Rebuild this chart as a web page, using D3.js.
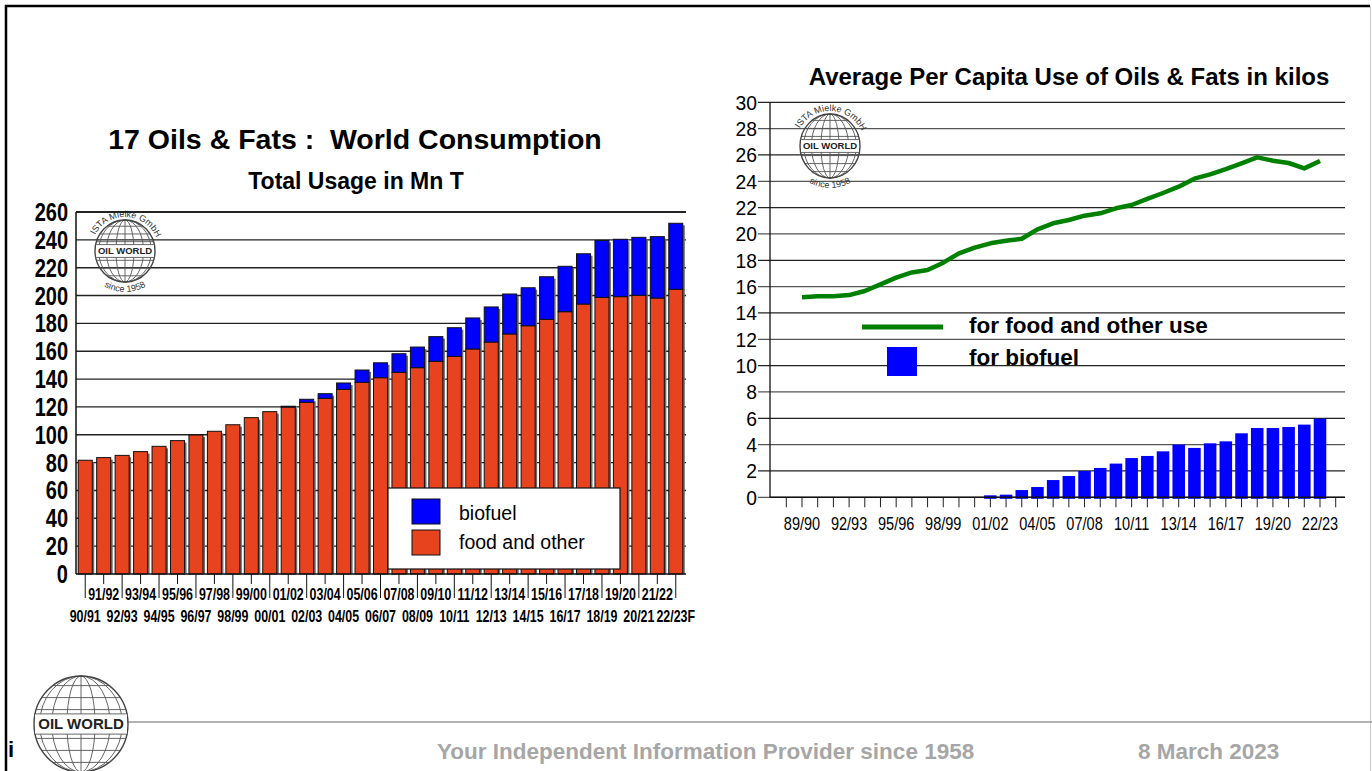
<!DOCTYPE html>
<html><head><meta charset="utf-8">
<script src="https://cdn.jsdelivr.net/npm/d3@7"></script>
<style>
html,body{margin:0;padding:0;background:#fff;}
svg{display:block;}
text{font-family:'Liberation Sans',Arial,sans-serif;}
</style></head><body>
<svg id="c" width="1372" height="771"></svg>
<script>
// ---------- DATA ----------
const leftCategories = ["90/91","91/92","92/93","93/94","94/95","95/96","96/97","97/98","98/99","99/00",
  "00/01","01/02","02/03","03/04","04/05","05/06","06/07","07/08","08/09","09/10","10/11","11/12",
  "12/13","13/14","14/15","15/16","16/17","17/18","18/19","19/20","20/21","21/22","22/23F"];
const leftFood = [81.7,83.6,85.2,87.9,91.7,95.8,99.8,102.5,107.2,112.3,116.6,119.9,123.3,126.2,132.6,
  137.7,141.0,144.8,148.2,152.8,156.3,161.6,166.6,172.4,178.3,182.9,188.4,193.9,198.7,199.2,200.2,198.2,204.5];
const leftBiofuel = [0,0,0,0,0,0,0,0,0,0,0,0.6,2.2,3.3,4.6,8.8,10.7,13.4,14.8,17.7,20.6,22.3,25.2,28.7,
  27.3,30.6,32.6,36.1,40.9,41.2,41.6,44.1,47.4];
const leftYTicks = [0,20,40,60,80,100,120,140,160,180,200,220,240,260];

const rightCategories = ["89/90","90/91","91/92","92/93","93/94","94/95","95/96","96/97","97/98","98/99",
  "99/00","00/01","01/02","02/03","03/04","04/05","05/06","06/07","07/08","08/09","09/10","10/11","11/12",
  "12/13","13/14","14/15","15/16","16/17","17/18","18/19","19/20","20/21","21/22","22/23"];
const rightFood = [15.19,15.27,15.27,15.36,15.67,16.17,16.68,17.08,17.26,17.82,18.53,18.96,19.29,19.49,
  19.64,20.35,20.81,21.06,21.39,21.57,21.95,22.2,22.66,23.11,23.59,24.2,24.53,24.93,25.36,25.82,25.56,25.39,24.98,25.54];
const rightBiofuel = [0,0,0,0,0,0,0,0,0,0,0,0,0.15,0.2,0.55,0.78,1.31,1.62,2.0,2.23,2.56,2.98,3.14,3.49,
  4.0,3.75,4.1,4.25,4.86,5.26,5.26,5.34,5.52,5.97];
const rightYTicks = [0,2,4,6,8,10,12,14,16,18,20,22,24,26,28,30];
const rightXLabels = ["89/90","92/93","95/96","98/99","01/02","04/05","07/08","10/11","13/14","16/17","19/20","22/23"];

const RED = "#e6431e", BLUE = "#0000ff", GREEN = "#008000";

const svg = d3.select("#c");

function ntext(g, x, y, str, size, weight, anchor, sx) {
  return g.append("text").attr("transform",`translate(${x},${y}) scale(${sx},1)`)
    .attr("text-anchor",anchor).attr("font-size",size).attr("font-weight",weight).text(str);
}

// ---------- FRAME ----------
svg.append("line").attr("x1",5).attr("x2",1370).attr("y1",6).attr("y2",6).attr("stroke","#000").attr("stroke-width",2.5);
svg.append("line").attr("x1",6).attr("x2",6).attr("y1",5).attr("y2",771).attr("stroke","#000").attr("stroke-width",2.5);
svg.append("line").attr("x1",1370.5).attr("x2",1370.5).attr("y1",6).attr("y2",771).attr("stroke","#ccc").attr("stroke-width",1);

// ---------- GLOBE LOGO ----------
let arcId = 0;
function globe(cx, cy, rx, ry, fs, withArcText) {
  const g = svg.append("g");
  const st = "#555";
  [0.3, 0.62, 0.88].forEach(k => g.append("ellipse").attr("cx",cx).attr("cy",cy).attr("rx",rx*k).attr("ry",ry)
     .attr("fill","none").attr("stroke",st).attr("stroke-width",0.9));
  g.append("line").attr("x1",cx).attr("x2",cx).attr("y1",cy-ry).attr("y2",cy+ry).attr("stroke",st).attr("stroke-width",0.9);
  [-0.8,-0.55,-0.3,0.3,0.55,0.8].forEach(t => {
    const w = rx*Math.sqrt(1-t*t);
    g.append("line").attr("x1",cx-w).attr("x2",cx+w).attr("y1",cy+t*ry).attr("y2",cy+t*ry)
      .attr("stroke",st).attr("stroke-width",0.9);
  });
  g.append("ellipse").attr("cx",cx).attr("cy",cy).attr("rx",rx).attr("ry",ry)
    .attr("fill","none").attr("stroke","#444").attr("stroke-width",1.4);
  const bh = fs*1.35;
  g.append("rect").attr("x",cx-rx+1).attr("y",cy-bh/2).attr("width",2*rx-2).attr("height",bh).attr("fill","#fff");
  g.append("line").attr("x1",cx-rx).attr("x2",cx+rx).attr("y1",cy-bh/2).attr("y2",cy-bh/2).attr("stroke",st).attr("stroke-width",0.9);
  g.append("line").attr("x1",cx-rx).attr("x2",cx+rx).attr("y1",cy+bh/2).attr("y2",cy+bh/2).attr("stroke",st).attr("stroke-width",0.9);
  g.append("text").attr("x",cx).attr("y",cy+fs*0.36).attr("text-anchor","middle")
    .attr("font-size",fs).attr("font-weight","bold").attr("fill","#222").text("OIL WORLD");
  if (withArcText) {
    const R = Math.max(rx,ry)+3;
    const id1 = "arcT"+(arcId++), id2 = "arcB"+(arcId++);
    const a0 = -160*Math.PI/180, a1 = -15*Math.PI/180;
    g.append("path").attr("id",id1).attr("fill","none")
      .attr("d",`M${cx+R*Math.cos(a0)},${cy+R*Math.sin(a0)} A${R},${R} 0 0 1 ${cx+R*Math.cos(a1)},${cy+R*Math.sin(a1)}`);
    g.append("text").attr("font-size",fs*0.95).attr("fill","#333")
      .append("textPath").attr("href","#"+id1).attr("startOffset","50%").attr("text-anchor","middle").text("ISTA Mielke GmbH");
    const R2 = Math.max(rx,ry)+10;
    const b0 = 140*Math.PI/180, b1 = 40*Math.PI/180;
    g.append("path").attr("id",id2).attr("fill","none")
      .attr("d",`M${cx+R2*Math.cos(b0)},${cy+R2*Math.sin(b0)} A${R2},${R2} 0 0 0 ${cx+R2*Math.cos(b1)},${cy+R2*Math.sin(b1)}`);
    g.append("text").attr("font-size",fs*0.95).attr("fill","#333")
      .append("textPath").attr("href","#"+id2).attr("startOffset","50%").attr("text-anchor","middle").text("since 1958");
  }
}

// ---------- LEFT CHART ----------
const L = {left:76, right:685, top:212, bottom:574};
const xL = d3.scaleBand().domain(leftCategories).range([L.left, L.right]).paddingInner(0.24).paddingOuter(0.12);
const yL = d3.scaleLinear().domain([0,260]).range([L.bottom, L.top]);

svg.append("text").attr("x",355).attr("y",149).attr("text-anchor","middle").attr("font-size",28.5)
  .attr("font-weight","bold").style("white-space","pre").text("17 Oils & Fats :  World Consumption");
svg.append("text").attr("x",356).attr("y",189).attr("text-anchor","middle").attr("font-size",23)
  .attr("font-weight","bold").text("Total Usage in Mn T");

const gL = svg.append("g");
gL.selectAll("line.grid").data(leftYTicks.filter(d=>d>0)).join("line")
  .attr("x1",L.left).attr("x2",L.right+1).attr("y1",d=>yL(d)).attr("y2",d=>yL(d))
  .attr("stroke","#222").attr("stroke-width",1.4);
const ylab = svg.append("g");
leftYTicks.forEach(d => ntext(ylab, 68, yL(d)+9, d, 25, "bold", "end", 0.8));

globe(125, 251, 30, 31, 9.5, true);

const bw = xL.bandwidth();
const bars = svg.append("g");
leftCategories.forEach((c,i) => {
  const x = xL(c);
  const tot = leftFood[i] + leftBiofuel[i];
  bars.append("rect").attr("x",x+2).attr("y",yL(tot)+2).attr("width",bw).attr("height",yL(0)-yL(tot)-2)
    .attr("fill","#6b6b6b");
});
bars.selectAll("rect.food").data(leftCategories).join("rect").attr("class","food")
  .attr("x",d=>xL(d)).attr("width",bw)
  .attr("y",(d,i)=>yL(leftFood[i])).attr("height",(d,i)=>yL(0)-yL(leftFood[i]))
  .attr("fill",RED).attr("stroke","#111").attr("stroke-width",1);
bars.selectAll("rect.bio").data(leftCategories.filter((d,i)=>leftBiofuel[i]>0)).join("rect").attr("class","bio")
  .attr("x",d=>xL(d)).attr("width",bw)
  .attr("y",d=>{const i=leftCategories.indexOf(d);return yL(leftFood[i]+leftBiofuel[i]);})
  .attr("height",d=>{const i=leftCategories.indexOf(d);return yL(leftFood[i])-yL(leftFood[i]+leftBiofuel[i]);})
  .attr("fill",BLUE).attr("stroke","#111").attr("stroke-width",1);

svg.append("line").attr("x1",L.left).attr("x2",L.left).attr("y1",L.top).attr("y2",L.bottom).attr("stroke","#111").attr("stroke-width",1.5);
svg.append("line").attr("x1",L.left).attr("x2",L.right+1).attr("y1",L.top).attr("y2",L.top).attr("stroke","#111").attr("stroke-width",1.4);
svg.append("line").attr("x1",L.left).attr("x2",L.right+1).attr("y1",L.bottom).attr("y2",L.bottom).attr("stroke","#111").attr("stroke-width",1.5);
const xt = svg.append("g");
leftCategories.forEach((c,i) => {
  const cx = xL(c) + bw/2;
  xt.append("line").attr("x1",cx).attr("x2",cx).attr("y1",L.bottom).attr("y2", i%2===0 ? 598 : 584)
    .attr("stroke","#111").attr("stroke-width",1);
  ntext(xt, cx, i%2===0 ? 622 : 600, c, 17, "bold", "middle", 0.73);
});

const lg = svg.append("g");
lg.append("rect").attr("x",388).attr("y",488).attr("width",232).attr("height",81).attr("fill","#fff").attr("stroke","#111").attr("stroke-width",1.2);
lg.append("rect").attr("x",412).attr("y",499).attr("width",28).attr("height",25).attr("fill",BLUE).attr("stroke","#111");
lg.append("rect").attr("x",412).attr("y",530).attr("width",28).attr("height",25).attr("fill",RED).attr("stroke","#111");
lg.append("text").attr("x",459).attr("y",520).attr("font-size",19.5).text("biofuel");
lg.append("text").attr("x",459).attr("y",549).attr("font-size",19.5).text("food and other");

// ---------- RIGHT CHART ----------
const R = {left:770, right:1345, top:102.3, bottom:497.3};
const xR = d3.scaleBand().domain(rightCategories).range([794.15, 1327.85]).paddingInner(0.2).paddingOuter(0.1);
const yR = d3.scaleLinear().domain([0,30]).range([R.bottom, R.top]);
const step = xR.step();

svg.append("text").attr("x",1069).attr("y",85).attr("text-anchor","middle").attr("font-size",24)
  .attr("font-weight","bold").text("Average Per Capita Use of Oils & Fats in kilos");

svg.append("g").selectAll("line").data(rightYTicks).join("line")
  .attr("x1",758).attr("x2",R.right).attr("y1",d=>yR(d)).attr("y2",d=>yR(d))
  .attr("stroke",(d,i)=>i%2? "#222":"#555").attr("stroke-width",1.3);
const rylab = svg.append("g");
rightYTicks.forEach(d => ntext(rylab, 757, yR(d)+7.5, d, 21, "normal", "end", 0.92));

svg.append("line").attr("x1",R.left).attr("x2",R.left).attr("y1",R.top).attr("y2",R.bottom).attr("stroke","#111").attr("stroke-width",1.3);

globe(830, 146, 30, 32, 9.5, true);

const tickPos = [xR(rightCategories[0]) + xR.bandwidth()/2 - step]
  .concat(rightCategories.map(c=>xR(c)+xR.bandwidth()/2))
  .concat([xR(rightCategories[rightCategories.length-1]) + xR.bandwidth()/2 + step]);
svg.append("g").selectAll("line").data(tickPos).join("line")
  .attr("x1",d=>d).attr("x2",d=>d).attr("y1",R.bottom).attr("y2",R.bottom+10).attr("stroke","#222").attr("stroke-width",1);
const rxlab = svg.append("g");
rightXLabels.forEach(d => ntext(rxlab, xR(d)+xR.bandwidth()/2, 530, d, 17.5, "normal", "middle", 0.83));

svg.append("g").selectAll("rect").data(rightCategories.filter((d,i)=>rightBiofuel[i]>0)).join("rect")
  .attr("x",d=>xR(d)).attr("width",xR.bandwidth())
  .attr("y",d=>yR(rightBiofuel[rightCategories.indexOf(d)]))
  .attr("height",d=>yR(0)-yR(rightBiofuel[rightCategories.indexOf(d)])+1.5)
  .attr("fill",BLUE);

svg.append("line").attr("x1",R.left).attr("x2",R.right).attr("y1",R.bottom).attr("y2",R.bottom).attr("stroke","#111").attr("stroke-width",1.4);

const line = d3.line().x((d,i)=>xR(rightCategories[i])+xR.bandwidth()/2).y(d=>yR(d));
svg.append("path").datum(rightFood).attr("d",line).attr("fill","none").attr("stroke",GREEN)
  .attr("stroke-width",4.5).attr("stroke-linejoin","round");

svg.append("line").attr("x1",862).attr("x2",943).attr("y1",327).attr("y2",327).attr("stroke",GREEN).attr("stroke-width",5);
svg.append("rect").attr("x",887).attr("y",347).attr("width",30).attr("height",29).attr("fill",BLUE);
svg.append("text").attr("x",969).attr("y",333).attr("font-size",22.5).attr("font-weight","bold").text("for food and other use");
svg.append("text").attr("x",969).attr("y",365).attr("font-size",22.5).attr("font-weight","bold").text("for biofuel");

// ---------- FOOTER ----------
svg.append("line").attr("x1",114).attr("x2",1372).attr("y1",722).attr("y2",722).attr("stroke","#999").attr("stroke-width",1.5);
globe(81, 724, 47, 48, 15, false);
svg.append("text").attr("x",8).attr("y",757).attr("font-size",22).attr("font-weight","bold").text("i");
svg.append("text").attr("x",437).attr("y",759).attr("font-size",22.5).attr("font-weight","bold").attr("fill","#a6a6a6")
  .text("Your Independent Information Provider since 1958");
svg.append("text").attr("x",1138).attr("y",759).attr("font-size",22.5).attr("font-weight","bold").attr("fill","#a6a6a6")
  .text("8 March 2023");
</script>
</body></html>
